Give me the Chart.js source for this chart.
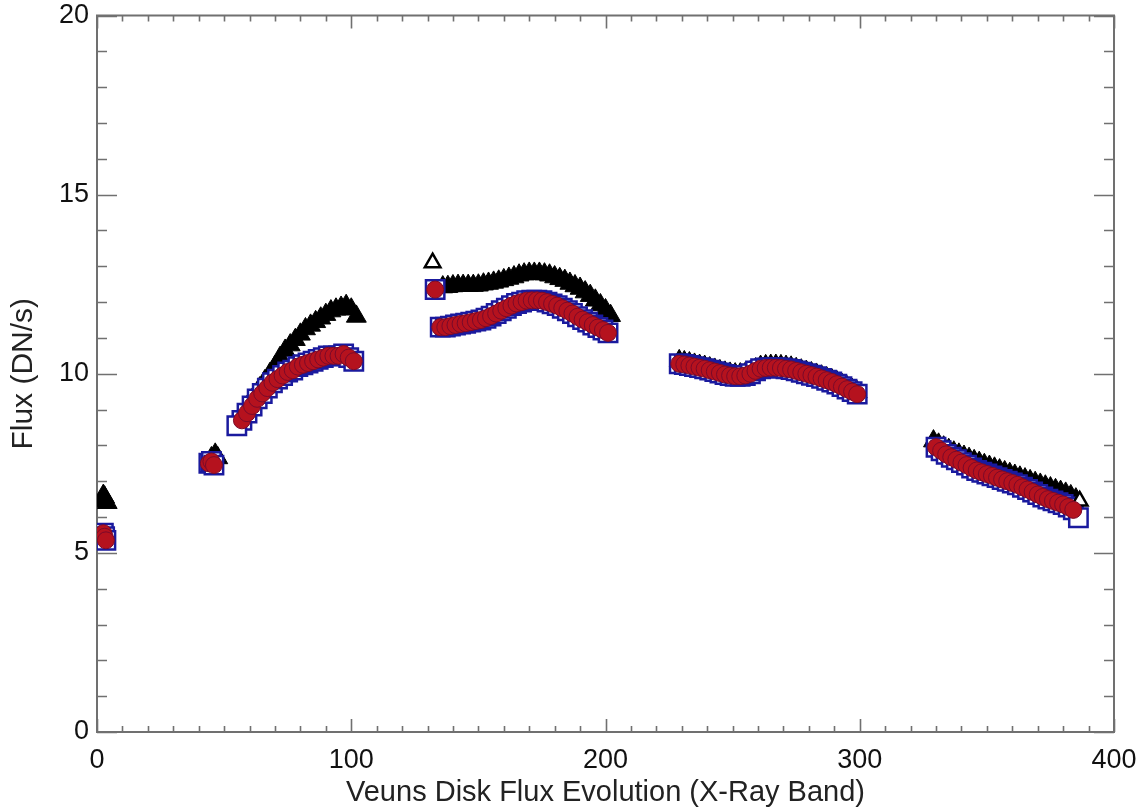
<!DOCTYPE html>
<html><head><meta charset="utf-8">
<script src="https://cdn.jsdelivr.net/npm/chart.js@4.4.1/dist/chart.umd.min.js"></script>
<style>html,body{margin:0;padding:0;background:#fff}#wrap{width:1143px;height:810px}</style>
</head><body><div id="wrap"><canvas id="c" width="1143" height="810"></canvas></div>
<script>
// ---- axis tick labels ----
const xTicks = [0, 100, 200, 300, 400];
const yTicks = [0, 5, 10, 15, 20];
const xMinorStep = 10;
const yMinorStep = 1;

// ---- black filled triangles ----
const blackX = [2,2.5,3,4, 45,46.5,47.5,
 56,58,60,62,64,66,68,70,72,74,76,78,80,82,84,86,88,90,92,94,96,98,100,102,
 136,138,140,142,144,146,148,150,152,154,156,158,160,162,164,166,168,170,172,174,176,178,180,182,184,186,188,190,192,194,196,198,200,202,
 229,231,233,235,237,239,241,243,245,247,249,251,253,255,257,259,261,263,265,267,269,271,273,275,277,279,281,283,285,287,289,291,293,295,297,299,
 329,331,333,335,337,339,341,343,345,347,349,351,353,355,357,359,361,363,365,367,369,371,373,375,377,379,381,383,385];
const blackY = [6.45,6.6,6.55,6.4, 7.65,7.75,7.65,
 8.75,8.95,9.2,9.4,9.6,9.8,10.0,10.2,10.45,10.65,10.8,10.95,11.1,11.25,11.35,11.45,11.55,11.65,11.75,11.8,11.85,11.9,11.8,11.6,
 12.42,12.43,12.45,12.46,12.46,12.46,12.46,12.47,12.5,12.52,12.55,12.58,12.62,12.66,12.7,12.75,12.78,12.8,12.8,12.8,12.78,12.75,12.7,12.65,12.6,12.52,12.45,12.38,12.28,12.18,12.05,11.92,11.78,11.62,
 10.36,10.33,10.3,10.26,10.23,10.2,10.16,10.12,10.08,10.04,10.01,9.99,9.99,10.01,10.06,10.13,10.2,10.22,10.23,10.23,10.22,10.2,10.18,10.14,10.1,10.06,10.02,9.98,9.93,9.88,9.83,9.77,9.7,9.63,9.56,9.49,
 8.12,8.03,7.95,7.88,7.81,7.75,7.69,7.63,7.57,7.52,7.46,7.41,7.36,7.31,7.26,7.21,7.16,7.11,7.06,7.01,6.96,6.91,6.86,6.81,6.76,6.71,6.66,6.59,6.5];

// ---- red filled circles ----
const redX = [2.5,3,3.5, 44,45,46,
 57,59,61,63,65,67,69,71,73,75,77,79,81,83,85,87,89,91,93,95,97,99,101,
 133,135,137,139,141,143,145,147,149,151,153,155,157,159,161,163,165,167,169,171,173,175,177,179,181,183,185,187,189,191,193,195,197,199,201,
 229,231,233,235,237,239,241,243,245,247,249,251,253,255,257,259,261,263,265,267,269,271,273,275,277,279,281,283,285,287,289,291,293,295,297,299,
 330,332,334,336,338,340,342,344,346,348,350,352,354,356,358,360,362,364,366,368,370,372,374,376,378,380,382,384];
const redY = [5.55,5.45,5.35, 7.5,7.55,7.45,
 8.7,8.9,9.1,9.3,9.45,9.6,9.75,9.85,9.95,10.05,10.1,10.2,10.25,10.3,10.35,10.4,10.45,10.5,10.5,10.5,10.55,10.45,10.35,
 12.35,11.3,11.3,11.33,11.36,11.39,11.41,11.44,11.47,11.5,11.55,11.61,11.68,11.76,11.83,11.9,11.96,12.0,12.04,12.05,12.05,12.04,12.0,11.95,11.9,11.83,11.76,11.68,11.59,11.51,11.44,11.36,11.29,11.22,11.14,
 10.28,10.26,10.23,10.2,10.17,10.14,10.1,10.06,10.02,9.98,9.95,9.93,9.93,9.95,10.0,10.08,10.14,10.16,10.17,10.17,10.16,10.14,10.12,10.08,10.04,10.0,9.96,9.92,9.87,9.82,9.77,9.71,9.64,9.57,9.5,9.43,
 7.95,7.85,7.75,7.67,7.6,7.52,7.45,7.37,7.3,7.25,7.2,7.15,7.1,7.05,7.0,6.95,6.9,6.83,6.77,6.7,6.63,6.56,6.5,6.45,6.4,6.35,6.28,6.2];

// ---- blue open squares: same points as circles plus two empty squares ----
const squareExtraX = [55, 386];
const squareExtraY = [8.55, 5.98];

// ---- open triangles ----
const openTriX = [132, 386.5];
const openTriY = [13.1, 6.45];

const pts = (xs, ys) => xs.map((v, i) => ({x: v, y: ys[i]}));
const FONT = "'Liberation Sans', Arial, Helvetica, sans-serif";

const frameTicks = {
  id: 'frameTicks',
  beforeDatasetsDraw(chart) {
    const {ctx, chartArea: a, scales: {x, y}} = chart;
    ctx.save();
    ctx.strokeStyle = '#707070';
    ctx.lineWidth = 1.6;
    ctx.beginPath();
    for (let v = x.min; v <= x.max; v += xMinorStep) {
      const px = Math.round(x.getPixelForValue(v)) + 0.5;
      const L = xTicks.includes(v) ? 13 : 6;
      ctx.moveTo(px, a.bottom); ctx.lineTo(px, a.bottom - L);
      ctx.moveTo(px, a.top); ctx.lineTo(px, a.top + L);
    }
    for (let v = y.min; v <= y.max; v += yMinorStep) {
      const py = Math.round(y.getPixelForValue(v)) + 0.5;
      const L = yTicks.includes(v) ? 20 : 10;
      ctx.moveTo(a.left, py); ctx.lineTo(a.left + L, py);
      ctx.moveTo(a.right, py); ctx.lineTo(a.right - L, py);
    }
    ctx.stroke();
    ctx.lineWidth = 2;
    ctx.strokeRect(a.left, a.top, a.right - a.left, a.bottom - a.top);
    ctx.restore();
  }
};

new Chart(document.getElementById('c'), {
  type: 'scatter',
  data: {
    datasets: [
      {label: 'circles', data: pts(redX, redY), pointStyle: 'circle', pointRadius: 8.5,
       backgroundColor: '#b5121e', borderColor: '#7a0a2a', borderWidth: 1},
      {label: 'open triangles', data: pts(openTriX, openTriY), pointStyle: 'triangle', pointRadius: 9,
       backgroundColor: '#ffffff', borderColor: '#000000', borderWidth: 2.5},
      {label: 'squares', data: pts(redX.concat(squareExtraX), redY.concat(squareExtraY)), pointStyle: 'rect', pointRadius: 13,
       backgroundColor: '#ffffff', borderColor: '#1a1a9e', borderWidth: 2.5},
      {label: 'triangles', data: pts(blackX, blackY), pointStyle: 'triangle', pointRadius: 11.5,
       backgroundColor: '#000000', borderColor: '#000000', borderWidth: 1}
    ]
  },
  options: {
    responsive: false,
    animation: false,
    devicePixelRatio: 1,
    layout: {padding: {left: 0, right: 29, top: 13, bottom: 0}},
    plugins: {legend: {display: false}, tooltip: {enabled: false}},
    scales: {
      x: {
        type: 'linear', min: 0, max: 400, position: 'bottom',
        afterBuildTicks: s => { s.ticks = xTicks.map(v => ({value: v})); },
        afterFit: s => { s.height = 78; s.paddingLeft = 0; s.paddingRight = 0; },
        grid: {display: false, drawTicks: false},
        border: {display: false},
        ticks: {font: {family: FONT, size: 27}, color: '#111', padding: 12, maxRotation: 0},
        title: {display: true, text: 'Veuns Disk Flux Evolution (X-Ray Band)', font: {family: FONT, size: 29}, color: '#222', padding: {top: 0, bottom: 0}}
      },
      y: {
        type: 'linear', min: 0, max: 20,
        afterBuildTicks: s => { s.ticks = yTicks.map(v => ({value: v})); },
        afterFit: s => { s.width = 97; s.paddingTop = 0; s.paddingBottom = 0; },
        grid: {display: false, drawTicks: false},
        border: {display: false},
        ticks: {font: {family: FONT, size: 27}, color: '#111', padding: 8},
        title: {display: true, text: 'Flux (DN/s)', font: {family: FONT, size: 30}, color: '#222', padding: {top: 6, bottom: 0}}
      }
    }
  },
  plugins: [frameTicks]
});
</script></body></html>
